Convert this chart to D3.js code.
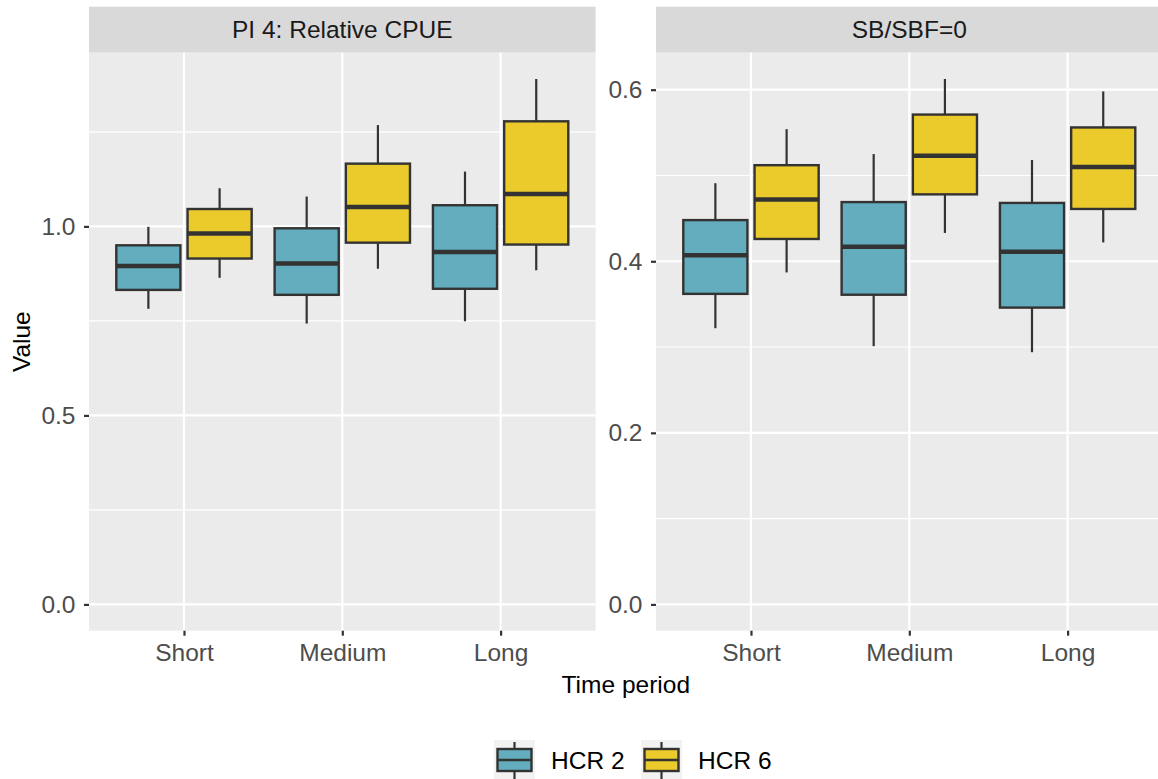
<!DOCTYPE html>
<html>
<head>
<meta charset="utf-8">
<script src="https://cdn.jsdelivr.net/npm/d3@7"></script>
<style>
  body { margin: 0; background: #fff; }
  svg text { font-family: "Liberation Sans", Arial, Helvetica, sans-serif; }
</style>
</head>
<body>
<svg id="chart"></svg>
<script>
var width = 1158, height = 779;

// categories
var periods = ["Short", "Medium", "Long"];
var hcrs = ["HCR 2", "HCR 6"];
var hcrColors = ["#63adbe", "#ebcb2b"];
var panelTitles = ["PI 4: Relative CPUE", "SB/SBF=0"];

// tick labels per panel
var cpueTicks = [0, 0.5, 1.0];
var cpueMinor = [0.25, 0.75, 1.25];
var sbTicks = [0, 0.2, 0.4, 0.6];
var sbMinor = [0.1, 0.3, 0.5];

// box stats per period: [lower whisker, q1, median, q3, upper whisker]
var cpueHcr2 = [[0.782, 0.832, 0.895, 0.950, 0.999],
                [0.743, 0.819, 0.902, 0.995, 1.079],
                [0.749, 0.835, 0.932, 1.056, 1.145]];
var cpueHcr6 = [[0.864, 0.915, 0.981, 1.046, 1.101],
                [0.888, 0.957, 1.051, 1.166, 1.268],
                [0.884, 0.952, 1.086, 1.278, 1.390]];
var sbHcr2 = [[0.322, 0.362, 0.407, 0.448, 0.491],
              [0.301, 0.361, 0.417, 0.469, 0.525],
              [0.294, 0.346, 0.411, 0.468, 0.518]];
var sbHcr6 = [[0.387, 0.426, 0.472, 0.512, 0.554],
              [0.433, 0.478, 0.523, 0.571, 0.6125],
              [0.422, 0.461, 0.510, 0.556, 0.598]];

var panels = [
  { title: panelTitles[0], left: 89, right: 595.6, ticks: cpueTicks, minor: cpueMinor, series: [cpueHcr2, cpueHcr6] },
  { title: panelTitles[1], left: 656, right: 1162.6, ticks: sbTicks, minor: sbMinor, series: [sbHcr2, sbHcr6] }
];

var stripTop = 6.7, stripBottom = 52.7, panelBottom = 630.7;
var dark = "#333333";
var fs = 24.5;

var svg = d3.select("#chart").attr("width", width).attr("height", height);

panels.forEach(function(p) {
  // y domain like ggplot: include 0, expand 5%
  var all = [0];
  p.series.forEach(function(s) { s.forEach(function(b) { all = all.concat(b); }); });
  var lo = d3.min(all), hi = d3.max(all), pad = (hi - lo) * 0.05;
  var y = d3.scaleLinear().domain([lo - pad, hi + pad]).range([panelBottom, stripBottom]);
  var x = d3.scalePoint().domain(periods).range([p.left, p.right]).padding(0.6);
  var step = x.step();
  var dodge = d3.scaleBand().domain(hcrs).range([-0.45 * step, 0.45 * step]);
  var boxW = dodge.bandwidth() * 0.9;

  var g = svg.append("g");

  // strip
  g.append("rect").attr("x", p.left).attr("y", stripTop)
    .attr("width", p.right - p.left).attr("height", stripBottom - stripTop)
    .attr("fill", "#d9d9d9");
  g.append("text").attr("x", (p.left + p.right) / 2).attr("y", (stripTop + stripBottom) / 2 + 8.5)
    .attr("text-anchor", "middle").attr("font-size", fs).attr("fill", "#1a1a1a").text(p.title);

  // panel background
  g.append("rect").attr("x", p.left).attr("y", stripBottom)
    .attr("width", p.right - p.left).attr("height", panelBottom - stripBottom)
    .attr("fill", "#ebebeb");

  // gridlines
  g.selectAll(".minor").data(p.minor).enter().append("line")
    .attr("x1", p.left).attr("x2", p.right)
    .attr("y1", function(d) { return y(d); }).attr("y2", function(d) { return y(d); })
    .attr("stroke", "#fff").attr("stroke-width", 1.1);
  g.selectAll(".major").data(p.ticks).enter().append("line")
    .attr("x1", p.left).attr("x2", p.right)
    .attr("y1", function(d) { return y(d); }).attr("y2", function(d) { return y(d); })
    .attr("stroke", "#fff").attr("stroke-width", 2.2);
  g.selectAll(".vgrid").data(periods).enter().append("line")
    .attr("x1", function(d) { return x(d); }).attr("x2", function(d) { return x(d); })
    .attr("y1", stripBottom).attr("y2", panelBottom)
    .attr("stroke", "#fff").attr("stroke-width", 2.2);

  // axes
  var yAxis = g.append("g").attr("transform", "translate(" + p.left + ",0)")
    .call(d3.axisLeft(y).tickValues(p.ticks).tickFormat(d3.format(".1f")).tickSize(5).tickPadding(8.5));
  var xAxis = g.append("g").attr("transform", "translate(0," + panelBottom + ")")
    .call(d3.axisBottom(x).tickSize(5).tickPadding(8));
  [yAxis, xAxis].forEach(function(a) {
    a.select(".domain").remove();
    a.selectAll(".tick line").attr("stroke", dark).attr("stroke-width", 2.2);
    a.selectAll(".tick text").attr("fill", "#4d4d4d").attr("font-size", fs);
  });
  xAxis.selectAll(".tick text").attr("dy", "0.71em");

  // boxes
  p.series.forEach(function(s, gi) {
    var bg = g.append("g");
    s.forEach(function(b, i) {
      var cx = x(periods[i]) + dodge(hcrs[gi]) + dodge.bandwidth() / 2;
      bg.append("line").attr("x1", cx).attr("x2", cx).attr("y1", y(b[4])).attr("y2", y(b[3]))
        .attr("stroke", dark).attr("stroke-width", 2.2);
      bg.append("line").attr("x1", cx).attr("x2", cx).attr("y1", y(b[1])).attr("y2", y(b[0]))
        .attr("stroke", dark).attr("stroke-width", 2.2);
      bg.append("rect").attr("x", cx - boxW / 2).attr("y", y(b[3]))
        .attr("width", boxW).attr("height", y(b[1]) - y(b[3]))
        .attr("fill", hcrColors[gi]).attr("stroke", dark).attr("stroke-width", 2.4);
      bg.append("line").attr("x1", cx - boxW / 2).attr("x2", cx + boxW / 2)
        .attr("y1", y(b[2])).attr("y2", y(b[2]))
        .attr("stroke", dark).attr("stroke-width", 4.5);
    });
  });
});

// axis titles
svg.append("text").attr("x", (89 + 1162.6) / 2).attr("y", 693)
  .attr("text-anchor", "middle").attr("font-size", fs).attr("fill", "#000").text("Time period");
svg.append("text").attr("transform", "translate(30," + (stripBottom + panelBottom) / 2 + ") rotate(-90)")
  .attr("text-anchor", "middle").attr("font-size", fs).attr("fill", "#000").text("Value");

// legend
var legend = svg.append("g");
var keyX = [494, 641], textX = [551, 698];
hcrs.forEach(function(h, i) {
  var k = legend.append("g").attr("transform", "translate(" + keyX[i] + ",740)");
  k.append("rect").attr("width", 41).attr("height", 39).attr("fill", "#f2f2f2");
  k.append("line").attr("x1", 20.5).attr("x2", 20.5).attr("y1", 2).attr("y2", 39)
    .attr("stroke", dark).attr("stroke-width", 2.2);
  k.append("rect").attr("x", 3.5).attr("y", 9).attr("width", 34).attr("height", 22)
    .attr("fill", hcrColors[i]).attr("stroke", dark).attr("stroke-width", 2.4);
  k.append("line").attr("x1", 3.5).attr("x2", 37.5).attr("y1", 20).attr("y2", 20)
    .attr("stroke", dark).attr("stroke-width", 2.4);
  legend.append("text").attr("x", textX[i]).attr("y", 769).attr("font-size", fs)
    .attr("fill", "#000").text(h);
});
</script>
</body>
</html>
